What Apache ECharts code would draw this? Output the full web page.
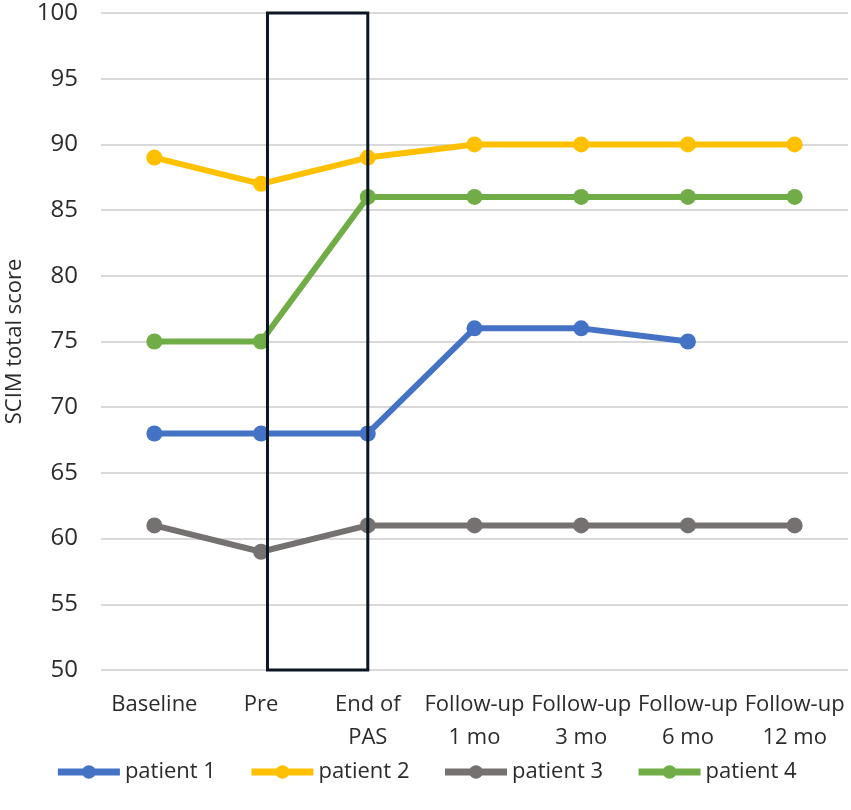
<!DOCTYPE html>
<html>
<head>
<meta charset="utf-8">
<script src="https://cdn.jsdelivr.net/npm/echarts@6/dist/echarts.min.js"></script>
<style>html,body{margin:0;padding:0;background:#fff}#c{width:851px;height:810px}</style>
</head>
<body>
<div id="c"></div>
<script>
const categories = ['Baseline', 'Pre', 'End of\nPAS', 'Follow-up\n1 mo', 'Follow-up\n3 mo', 'Follow-up\n6 mo', 'Follow-up\n12 mo'];
const patient1 = [68, 68, 68, 76, 76, 75, null];
const patient2 = [89, 87, 89, 90, 90, 90, 90];
const patient3 = [61, 59, 61, 61, 61, 61, 61];
const patient4 = [75, 75, 86, 86, 86, 86, 86];
const seriesNames = ['patient 1', 'patient 2', 'patient 3', 'patient 4'];
const seriesColors = ['#4472C4', '#FFC000', '#767171', '#70AD47'];
const yTicks = { min: 50, max: 100, interval: 5 };
const boxFrom = 'Pre', boxTo = 'End of\nPAS';

const FONT = '"Open Sans", sans-serif';
const TXT = '#2b2b2b';
const chart = echarts.init(document.getElementById('c'));
const mk = (name, data, color) => ({
  name, type: 'line', data, connectNulls: false,
  symbol: 'circle', symbolSize: 16,
  lineStyle: { width: 6, color }, itemStyle: { color },
  emphasis: { disabled: true }, animation: false
});
chart.setOption({
  animation: false,
  grid: { left: 101, right: 3, top: 13, bottom: 140, outerBoundsMode: 'none', containLabel: false },
  legend: {
    bottom: 22, left: 'center', itemWidth: 62, itemHeight: 17, itemGap: 32,
    lineStyle: { width: 7 },
    textStyle: { fontFamily: FONT, fontSize: 22, color: TXT },
    data: seriesNames
  },
  xAxis: {
    type: 'category', data: categories, boundaryGap: true,
    axisLine: { show: false }, axisTick: { show: false },
    axisLabel: { interval: 0, margin: 18, fontFamily: FONT, fontSize: 22, color: TXT, lineHeight: 33 }
  },
  yAxis: {
    type: 'value', min: yTicks.min, max: yTicks.max, interval: yTicks.interval,
    name: 'SCIM total score', nameLocation: 'middle', nameGap: 73,
    nameTextStyle: { fontFamily: FONT, fontSize: 22, color: TXT },
    axisLine: { show: false }, axisTick: { show: false },
    axisLabel: { margin: 23, fontFamily: FONT, fontSize: 24, color: TXT },
    splitLine: { lineStyle: { color: '#d9d9d9', width: 2 } }
  },
  series: [
    mk(seriesNames[0], patient1, seriesColors[0]),
    mk(seriesNames[1], patient2, seriesColors[1]),
    mk(seriesNames[2], patient3, seriesColors[2]),
    mk(seriesNames[3], patient4, seriesColors[3])
  ]
});
// Box annotation from just right of "Pre" to "End of PAS", spanning full y-range
const p0 = chart.convertToPixel({ xAxisIndex: 0 }, boxFrom);
const p1 = chart.convertToPixel({ xAxisIndex: 0 }, boxTo);
const yTop = chart.convertToPixel({ yAxisIndex: 0 }, yTicks.max);
const yBot = chart.convertToPixel({ yAxisIndex: 0 }, yTicks.min);
const x0 = p0 + (p1 - p0) * 0.06;
chart.setOption({
  graphic: [{
    type: 'rect', z: 100, silent: true,
    shape: { x: x0, y: yTop, width: p1 - x0, height: yBot - yTop },
    style: { fill: 'none', stroke: '#0b1622', lineWidth: 3 }
  }]
});
</script>
</body>
</html>
